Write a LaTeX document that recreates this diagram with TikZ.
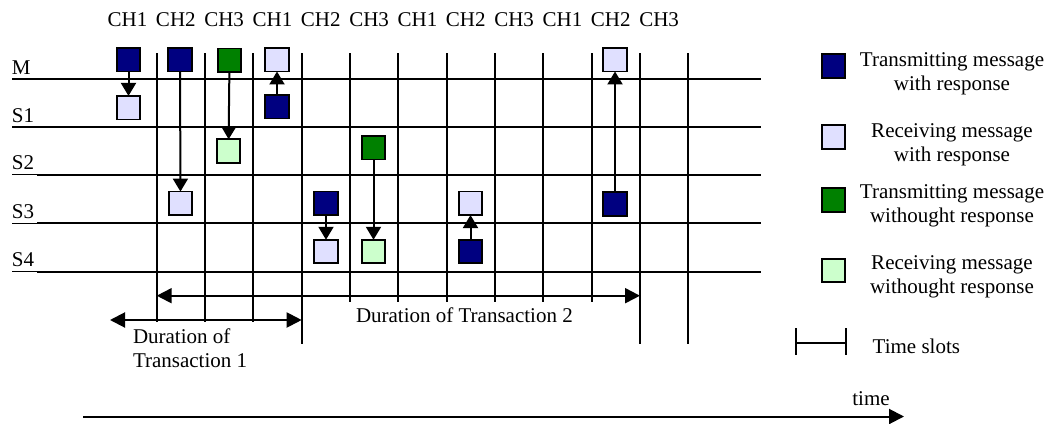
\documentclass[tikz,border=0pt]{standalone}
\usepackage{fontspec}
\setmainfont{Liberation Serif}
\usetikzlibrary{arrows.meta}
\definecolor{navyc}{RGB}{0,0,128}
\definecolor{lavc}{RGB}{224,224,255}
\definecolor{greenc}{RGB}{0,128,0}
\definecolor{lgreenc}{RGB}{204,255,204}
\begin{document}
\begin{tikzpicture}[x=1pt,y=-1pt,
  sq/.style={draw=black,line width=1.8pt,minimum size=23.5pt,inner sep=0pt,outer sep=0pt},
  tx/.style={sq,fill=navyc},
  rx/.style={sq,fill=lavc},
  tn/.style={sq,fill=greenc},
  rn/.style={sq,fill=lgreenc},
  gridline/.style={line width=2pt},
  msg/.style={line width=2pt,-{Triangle[length=13pt,width=15pt]}},
  dur/.style={line width=2pt,{Triangle[length=15pt,width=15pt]}-{Triangle[length=15pt,width=15pt]}},
  lbl/.style={font=\fontsize{21}{23.5}\selectfont,inner sep=0pt,outer sep=0pt},
]
\useasboundingbox (0,0) rectangle (1049,423);

% channel labels
\foreach \l [count=\i from 0] in {CH1,CH2,CH3,CH1,CH2,CH3,CH1,CH2,CH3,CH1,CH2,CH3}
  \node[lbl,anchor=base] (ch\i) at (127.5+48.33*\i,27) {\l};

% rows
\foreach \y/\n in {79/M,127/S1,174.7/S2,223.3/S3,271.7/S4}{
  \node[lbl,anchor=base west] (row\n) at (12,\y-5) {\n};
  \draw[line width=1.2pt] (12,\y) -- (37,\y);
  \draw[gridline] (37,\y) -- (761,\y);
}

% time slot boundaries
\foreach \x in {156.7,205,253.3} \draw[gridline] (\x,53) -- (\x,322);
\draw[gridline] (301.7,53) -- (301.7,344);
\foreach \x in {350,398.3,446.7,495,543.3,591.7} \draw[gridline] (\x,53) -- (\x,302);
\foreach \x in {640,688.3} \draw[gridline] (\x,53) -- (\x,344);

% messages
\node[tx] (a0) at (128.5,59.7) {};
\node[rx] (a1) at (128.5,107.7) {};
\draw[msg] (a0) -- (a1);
\node[tx] (b0) at (180,59.7) {};
\node[rx] (b1) at (180.5,203.3) {};
\draw[msg] (b0) -- (b1);
\node[tn] (c0) at (229.5,60.3) {};
\node[rn] (c1) at (228.5,151) {};
\draw[msg] (c0) -- (c1);
\node[tx] (d0) at (277,106.7) {};
\node[rx] (d1) at (277,59.7) {};
\draw[msg] (d0) -- (d1);
\node[tx] (e0) at (326,203.3) {};
\node[rx] (e1) at (326,251.5) {};
\draw[msg] (e0) -- (e1);
\node[tn] (f0) at (373.5,147.7) {};
\node[rn] (f1) at (373.5,251.5) {};
\draw[msg] (f0) -- (f1);
\node[tx] (g0) at (470.5,251.5) {};
\node[rx] (g1) at (470.5,203.3) {};
\draw[msg] (g0) -- (g1);
\node[tx] (h0) at (615,204) {};
\node[rx] (h1) at (615,59.7) {};
\draw[msg] (h0) -- (h1);

% durations
\coordinate (d1l) at (110,320);
\coordinate (d1r) at (301.7,320);
\draw[dur] (d1l) -- (d1r);
\coordinate (d2l) at (156.7,295.7);
\coordinate (d2r) at (640,295.7);
\draw[dur] (d2l) -- (d2r);
\node[lbl,anchor=base west] (t1a) at (133,343.5) {Duration of};
\node[lbl,anchor=base west] (t1b) at (133,367) {Transaction 1};
\node[lbl,anchor=base west] (t2) at (356,322) {Duration of Transaction 2};

% legend
\node[tx] (L1) at (833.5,66) {};
\node[lbl,align=center,anchor=north] (L1t) at (952,52.7) {Transmitting message\\with response};
\node[rx] (L2) at (833.5,137) {};
\node[lbl,align=center,anchor=north] (L2t) at (952,123.7) {Receiving message\\with response};
\node[tn] (L3) at (833.5,200) {};
\node[lbl,align=center,anchor=north] (L3t) at (952,184.7) {Transmitting message\\withought response};
\node[rn] (L4) at (833.5,270.5) {};
\node[lbl,align=center,anchor=north] (L4t) at (952,255.7) {Receiving message\\withought response};

\coordinate (s1a) at (796,328); \coordinate (s1b) at (796,355);
\coordinate (s2a) at (846,328); \coordinate (s2b) at (846,355);
\coordinate (sl) at (796,342.7); \coordinate (sr) at (846,342.7);
\draw[line width=2pt] (s1a) -- (s1b);
\draw[line width=2pt] (s2a) -- (s2b);
\draw[line width=2pt] (sl) -- (sr);
\node[lbl,anchor=base west] (tslots) at (872.7,353) {Time slots};

% time axis
\coordinate (ta0) at (83.3,416.5);
\coordinate (ta1) at (904,416.5);
\draw[line width=2pt,-{Triangle[length=15pt,width=15pt]}] (ta0) -- (ta1);
\node[lbl,anchor=base] (timet) at (871,405) {time};
\end{tikzpicture}
\end{document}
